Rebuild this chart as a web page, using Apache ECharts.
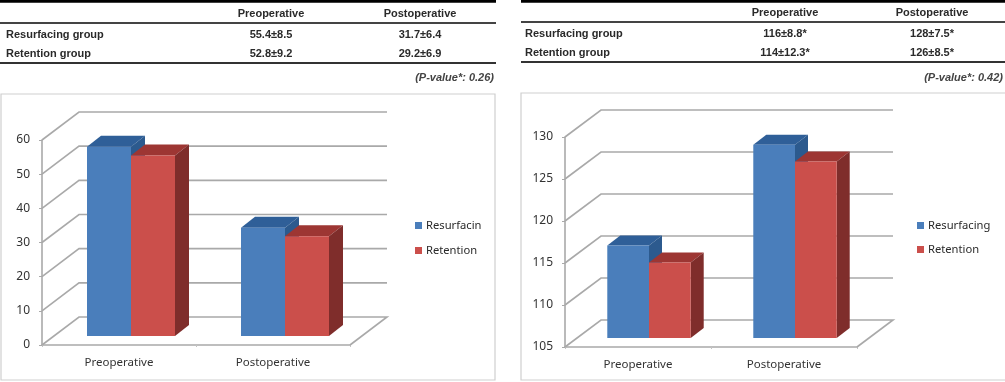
<!DOCTYPE html>
<html><head><meta charset="utf-8">
<style>html,body{margin:0;padding:0;background:#fff}#c{width:1005px;height:382px;filter:blur(0.45px)}</style>
<script src="https://cdn.jsdelivr.net/npm/echarts@6/dist/echarts.min.js"></script>
</head><body><div id="c"></div>
<script>
const categories = ['Preoperative', 'Postoperative'];
const leftResurfacing = [55.4, 31.7];
const leftRetention = [52.8, 29.2];
const rightResurfacing = [116, 128];
const rightRetention = [114, 126];
const leftTicks = [0, 10, 20, 30, 40, 50, 60];
const rightTicks = [105, 110, 115, 120, 125, 130];
const leftLegend = ['Resurfacin', 'Retention'];
const rightLegend = ['Resurfacing', 'Retention'];
const tableHeader = ['Preoperative', 'Postoperative'];
const rowNames = ['Resurfacing group', 'Retention group'];
const leftTable = [['55.4±8.5', '31.7±6.4'], ['52.8±9.2', '29.2±6.9']];
const rightTable = [['116±8.8*', '128±7.5*'], ['114±12.3*', '126±8.5*']];
const leftP = '(P-value*: 0.26)';
const rightP = '(P-value*: 0.42)';

const BLUE = {front:'#4a7ebb', top:'#2f5f98', side:'#2c5a8e'};
const RED = {front:'#cb4f4b', top:'#9d3633', side:'#7f2d2b'};
const GRAY = '#a9a9a9';

function wallSeries(ticks, xi, wall) {
  return {
    type:'custom', name:'wall', xAxisIndex:xi, yAxisIndex:xi, z:1, silent:true,
    data: ticks.map(v => [0, v]),
    encode:{x:0, y:1},
    renderItem(params, api) {
      const cs = params.coordSys;
      const y = api.coord([0, api.value(1)])[1];
      const x0 = cs.x, x1 = cs.x + cs.width;
      const pts = [[x0, y], [x0 + wall.dx, y + wall.dy], [x1 + wall.dx, y + wall.dy]];
      if (params.dataIndex === 0) pts.push([x1, y]);
      return {type:'polyline', shape:{points:pts}, style:{stroke:GRAY, lineWidth:1.6, fill:null}};
    }
  };
}
function barSeries(name, values, side, pal, xi, geo) {
  return {
    type:'custom', name, xAxisIndex:xi, yAxisIndex:xi, z:2, silent:true,
    itemStyle:{color:pal.front},
    data: values.map((v, i) => [i, v]),
    encode:{x:0, y:1},
    renderItem(params, api) {
      const p = api.coord([api.value(0), api.value(1)]);
      const base = params.coordSys.y + params.coordSys.height;
      const w = api.size([1, 0])[0] * geo.barRatio;
      const l = p[0] + geo.sx + (side === 0 ? -w : 0), r = l + w;
      const t = p[1] + geo.sy, b = base + geo.sy;
      const dx = geo.dx, dy = geo.dy;
      return {type:'group', children:[
        {type:'polygon', shape:{points:[[l,t],[l+dx,t+dy],[r+dx,t+dy],[r,t]]}, style:{fill:pal.top}},
        {type:'polygon', shape:{points:[[r,t],[r+dx,t+dy],[r+dx,b+dy],[r,b]]}, style:{fill:pal.side}},
        {type:'rect', shape:{x:l, y:t, width:w, height:b-t}, style:{fill:pal.front}}
      ]};
    }
  };
}
function xAxis(i) {
  return {type:'category', gridIndex:i, data:categories,
    axisLine:{lineStyle:{color:GRAY, width:1.6}},
    axisTick:{show:true, length:2, lineStyle:{color:'#c4c4c4'}},
    axisLabel:{color:'#333', fontFamily:'Noto Sans', fontSize:11.5, margin:12}};
}
function yAxis(i, min, max, step) {
  return {type:'value', gridIndex:i, min, max, interval:step,
    axisLine:{show:true, lineStyle:{color:GRAY, width:1.6}},
    axisTick:{show:true, length:3, lineStyle:{color:GRAY}},
    splitLine:{show:false},
    axisLabel:{color:'#333', fontFamily:'Noto Sans', fontSize:12, margin:12}};
}
function legend(names, left, top, gap, size) {
  return {data:names.map(n => ({name:n, icon:'rect'})), orient:'vertical', left, top,
    itemWidth:7, itemHeight:7, itemGap:gap, selectedMode:false,
    textStyle:{color:'#2a2a2a', fontFamily:'Noto Sans', fontSize:size, padding:[0,0,0,-1]}};
}
function T(text, x, y, o) {
  return {type:'text', z:5, silent:true, x, y, style:Object.assign({text, fill:'#2a2a2a',
    font:'bold 11px "Liberation Sans"', textVerticalAlign:'middle', textAlign:'center'}, o||{})};
}
function L(x1, x2, y, w, c) {
  return {type:'line', silent:true, shape:{x1, y1:y, x2, y2:y}, style:{stroke:c, lineWidth:w}};
}
function table(g, data, p) {
  const els = [
    L(g.x0, g.x1, g.rule0, 3.5, '#000'), L(g.x0, g.x1, g.rule1, 1.8, '#444'), L(g.x0, g.x1, g.rule2, 1.8, '#333'),
    T(tableHeader[0], g.col0, g.head), T(tableHeader[1], g.col1, g.head),
    T(p, g.pRight, 77.5, {textAlign:'right', font:'italic bold 11px "Liberation Sans"', fill:'#444'}),
    {type:'rect', silent:true, shape:{x:g.fx, y:g.fy, width:g.fw, height:g.fh}, style:{fill:'#fff', stroke:'#cfcfcf', lineWidth:1.2}, z:-1}
  ];
  rowNames.forEach((n, i) => {
    els.push(T(n, g.label, g.rows[i], {textAlign:'left'}));
    els.push(T(data[i][0], g.col0, g.rows[i]));
    els.push(T(data[i][1], g.col1, g.rows[i]));
  });
  return els;
}
const geoL = {barRatio:0.2857, sx:12, sy:-9, dx:14, dy:-11};
const geoR = {barRatio:0.2857, sx:11, sy:-9, dx:13, dy:-10};
const chart = echarts.init(document.getElementById('c'), null, {renderer:'canvas'});
chart.setOption({
  animation:false, backgroundColor:'#fff',
  grid:[{left:42, top:140, width:308, height:205}, {left:565, top:137, width:292, height:210}],
  xAxis:[xAxis(0), xAxis(1)],
  yAxis:[yAxis(0, 0, 60, 10), yAxis(1, 105, 130, 5)],
  legend:[legend(leftLegend, 410, 215, 14, 11.2), legend(rightLegend, 912, 215, 13, 11.2)],
  series:[
    wallSeries(leftTicks, 0, {dx:37, dy:-28}),
    barSeries(leftLegend[0], leftResurfacing, 0, BLUE, 0, geoL),
    barSeries(leftLegend[1], leftRetention, 1, RED, 0, geoL),
    wallSeries(rightTicks, 1, {dx:36, dy:-27}),
    barSeries(rightLegend[0], rightResurfacing, 0, BLUE, 1, geoR),
    barSeries(rightLegend[1], rightRetention, 1, RED, 1, geoR)
  ],
  graphic:{elements:[
    ...table({x0:0,x1:496,rule0:1,rule1:23,rule2:63,col0:271,col1:420,head:14,rows:[35,54],label:6,pRight:494,fx:1,fy:94,fw:494,fh:286}, leftTable, leftP),
    ...table({x0:521,x1:1005,rule0:1,rule1:22,rule2:62,col0:785,col1:932,head:13,rows:[34,53],label:525,pRight:1003,fx:521,fy:93,fw:490,fh:287}, rightTable, rightP)
  ]}
});
</script></body></html>
